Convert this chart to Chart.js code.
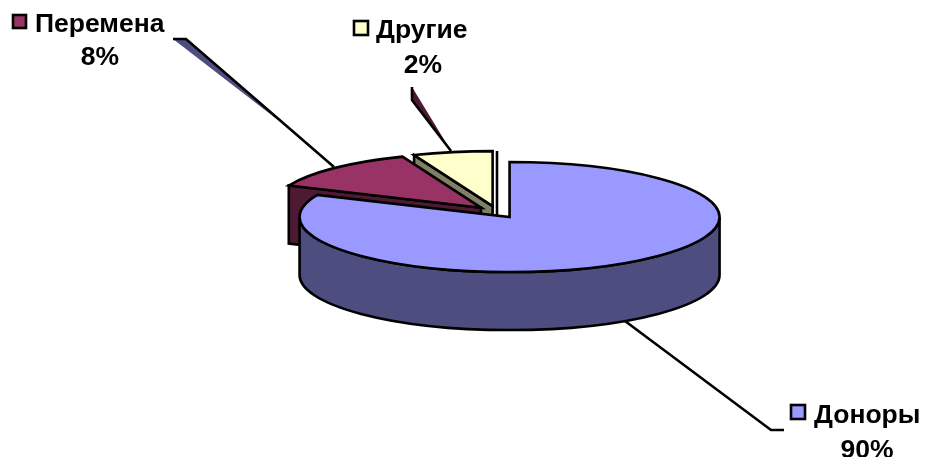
<!DOCTYPE html>
<html>
<head>
<meta charset="utf-8">
<script src="https://cdn.jsdelivr.net/npm/chart.js@4"></script>
<style>
  html, body { margin: 0; padding: 0; background: #fff; }
  canvas { display: block; }
</style>
</head>
<body>
<canvas id="pie" width="925" height="457"></canvas>
<script>
// slice sizes as they are drawn in the picture (the printed labels say otherwise)
const categories = ['Доноры', 'Перемена', 'Другие'];
const sliceValues = [81.6, 12.3, 6.1];
const percentLabels = ['90%', '8%', '2%'];
const topColors = ['#9999ff', '#993366', '#ffffcc'];
const wallColors = ['#4d4d80', '#4d1933', '#808066'];

const SQUASH = 55 / 210;
const DEPTH = 58;
const EXPLODE = 23;
const FONT = 'bold 26.5px "Liberation Sans", Arial, sans-serif';

// label block: key square, name, percent below
const labelBoxes = [
  { keyX: 791, keyY: 405, keySize: 14, nameX: 814, nameY: 423, pctX: 867, pctY: 458 },
  { keyX: 13, keyY: 15, keySize: 13, nameX: 35, nameY: 32, pctX: 100, pctY: 65 },
  { keyX: 354, keyY: 21, keySize: 14, nameX: 376, nameY: 38, pctX: 423, pctY: 73 }
];

function sliceGeometry(arc) {
  const mid = (arc.startAngle + arc.endAngle) / 2;
  return {
    x: arc.x + Math.cos(mid) * EXPLODE,
    y: arc.y + Math.sin(mid) * EXPLODE * SQUASH,
    r: arc.outerRadius,
    a0: arc.startAngle,
    a1: arc.endAngle
  };
}

function ptOn(g, angle) {
  return [g.x + Math.cos(angle) * g.r, g.y + Math.sin(angle) * g.r * SQUASH];
}

function radialWall(ctx, g, angle, color) {
  const p = ptOn(g, angle);
  ctx.beginPath();
  ctx.moveTo(g.x, g.y);
  ctx.lineTo(p[0], p[1]);
  ctx.lineTo(p[0], p[1] + DEPTH);
  ctx.lineTo(g.x, g.y + DEPTH);
  ctx.closePath();
  ctx.fillStyle = color;
  ctx.fill();
  ctx.stroke();
}

function arcWall(ctx, g, color) {
  // only the part of the rim that faces the viewer
  const from = Math.max(g.a0, 0);
  const to = Math.min(g.a1, Math.PI);
  if (to <= from) return;
  ctx.beginPath();
  ctx.ellipse(g.x, g.y, g.r, g.r * SQUASH, 0, from, to);
  ctx.ellipse(g.x, g.y + DEPTH, g.r, g.r * SQUASH, 0, to, from, true);
  ctx.closePath();
  ctx.fillStyle = color;
  ctx.fill();
  ctx.stroke();
}

const pie3d = {
  id: 'pie3d',
  beforeDatasetsDraw(chart) {
    const ctx = chart.ctx;
    const arcs = chart.getDatasetMeta(0).data;

    // stray slivers beside two leader lines
    ctx.fillStyle = wallColors[0];
    ctx.beginPath();
    ctx.moveTo(173, 39); ctx.lineTo(186, 39); ctx.lineTo(300, 137);
    ctx.closePath();
    ctx.fill();
    ctx.fillStyle = wallColors[1];
    ctx.beginPath();
    ctx.moveTo(412, 87); ctx.lineTo(412, 99); ctx.lineTo(451, 151);
    ctx.closePath();
    ctx.fill();

    ctx.strokeStyle = '#000';
    ctx.lineWidth = 2.6;
    ctx.lineJoin = 'miter';
    ctx.lineCap = 'butt';

    // thin line right of the yellow slice
    ctx.beginPath();
    ctx.moveTo(497, 151); ctx.lineTo(497, 215);
    ctx.stroke();

    // back to front
    [2, 1, 0].forEach(i => {
      const arc = arcs[i];
      const g = sliceGeometry(arc);

      if (Math.cos(arc.startAngle) < -0.001) radialWall(ctx, g, arc.startAngle, wallColors[i]);
      if (Math.cos(arc.endAngle) > 0.001) radialWall(ctx, g, arc.endAngle, wallColors[i]);
      arcWall(ctx, g, wallColors[i]);

      ctx.save();
      ctx.translate(g.x, g.y);
      ctx.scale(1, SQUASH);
      ctx.translate(-arc.x, -arc.y);
      arc.draw(ctx);
      ctx.restore();

      ctx.beginPath();
      ctx.moveTo(g.x, g.y);
      ctx.ellipse(g.x, g.y, g.r, g.r * SQUASH, 0, g.a0, g.a1);
      ctx.closePath();
      ctx.stroke();
    });

    // leader lines
    ctx.beginPath();
    ctx.moveTo(173, 39); ctx.lineTo(186, 39); ctx.lineTo(334, 167);
    ctx.moveTo(412, 87); ctx.lineTo(412, 100); ctx.lineTo(451, 151);
    ctx.moveTo(625, 321); ctx.lineTo(771, 430); ctx.lineTo(784, 430);
    ctx.stroke();

    // labels
    ctx.font = FONT;
    ctx.textBaseline = 'alphabetic';
    labelBoxes.forEach((b, i) => {
      ctx.fillStyle = topColors[i];
      ctx.fillRect(b.keyX, b.keyY, b.keySize, b.keySize);
      ctx.strokeRect(b.keyX, b.keyY, b.keySize, b.keySize);
      ctx.fillStyle = '#000';
      ctx.textAlign = 'left';
      ctx.fillText(categories[i], b.nameX, b.nameY);
      ctx.textAlign = 'center';
      ctx.fillText(percentLabels[i], b.pctX, b.pctY);
    });

    return false;
  }
};

new Chart(document.getElementById('pie'), {
  type: 'pie',
  data: {
    labels: categories,
    datasets: [{
      data: sliceValues,
      backgroundColor: topColors,
      borderWidth: 0
    }]
  },
  options: {
    responsive: false,
    animation: false,
    layout: { padding: { left: 287, right: 218, top: 2, bottom: 35 } },
    plugins: { legend: { display: false }, tooltip: { enabled: false } }
  },
  plugins: [pie3d]
});
</script>
</body>
</html>
